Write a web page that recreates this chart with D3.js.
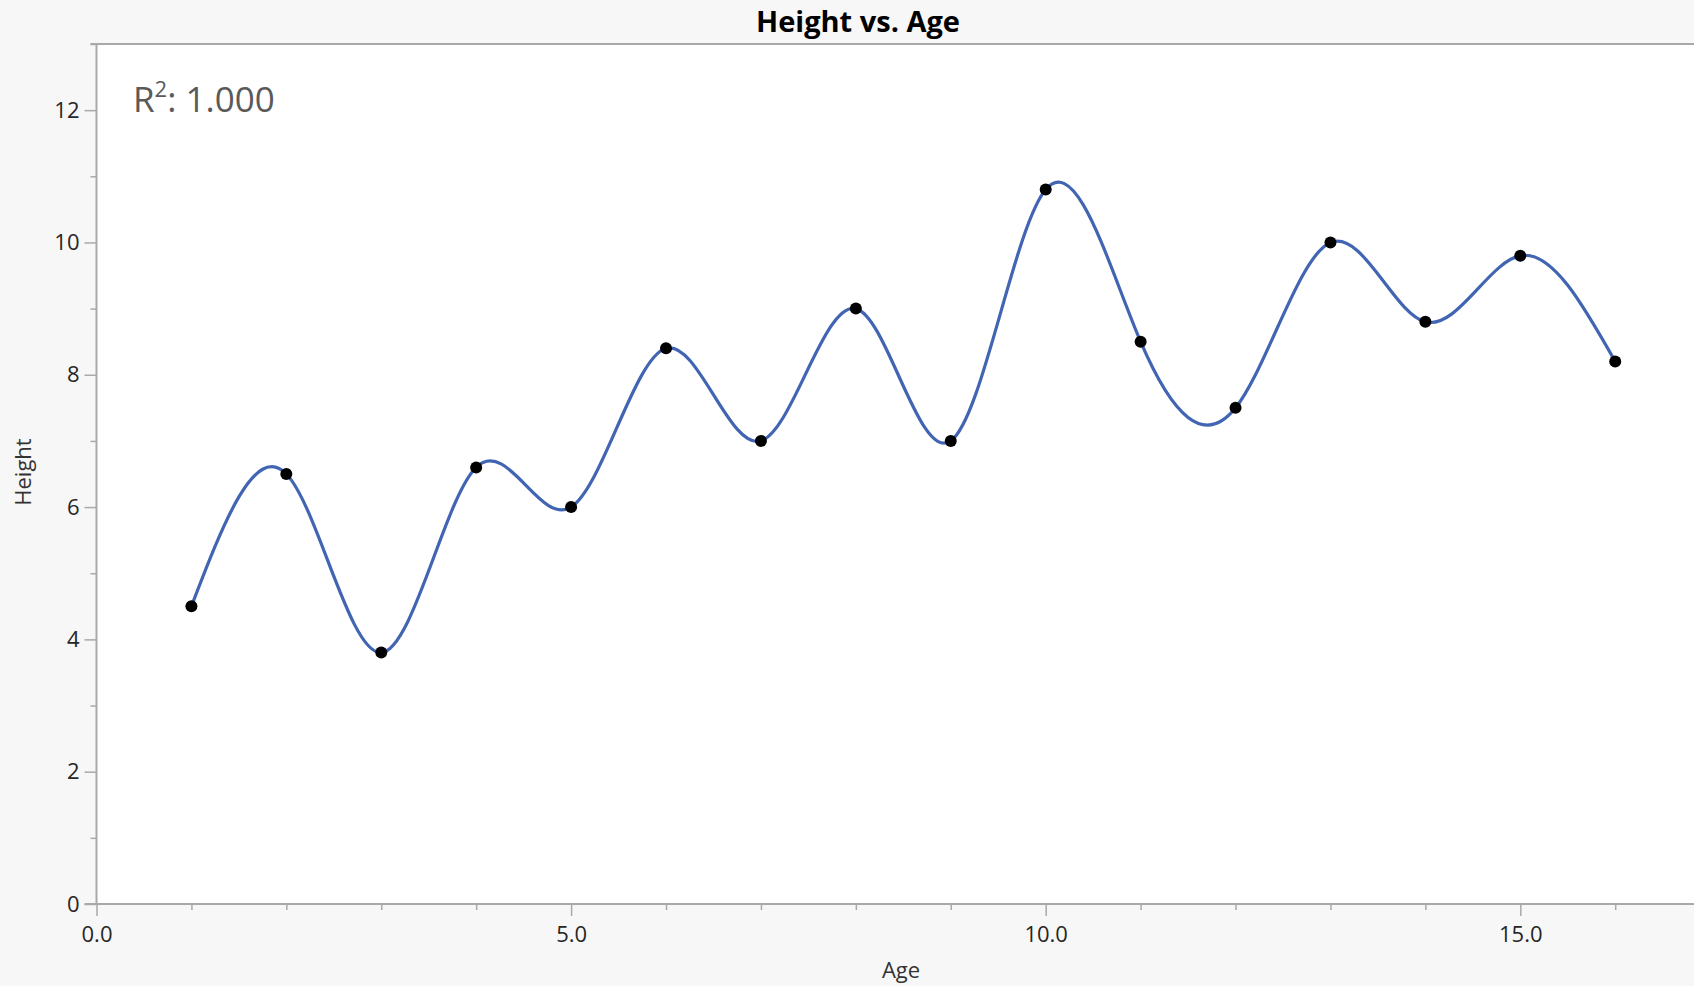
<!DOCTYPE html>
<html>
<head>
<meta charset="utf-8">
<script src="https://cdn.jsdelivr.net/npm/d3@7"></script>
<style>
  html, body { margin: 0; padding: 0; background: #f7f7f7; }
  svg { display: block; }
  text { font-family: "Open Sans", "Noto Sans", sans-serif; }
</style>
</head>
<body>
<svg id="chart" width="1694" height="986"></svg>
<script>
// ---- data ----
const ages = [1, 2, 3, 4, 5, 6, 7, 8, 9, 10, 11, 12, 13, 14, 15, 16];
const heights = [4.5, 6.5, 3.8, 6.6, 6.0, 8.4, 7.0, 9.0, 7.0, 10.8, 8.5, 7.5, 10.0, 8.8, 9.8, 8.2];
const xMajorTicks = [0, 5, 10, 15];
const xMinorTicks = [1, 2, 3, 4, 6, 7, 8, 9, 11, 12, 13, 14, 16];
const yMajorTicks = [0, 2, 4, 6, 8, 10, 12];
const yMinorTicks = [1, 3, 5, 7, 9, 11, 13];
const titleText = "Height vs. Age";
const xLabel = "Age";
const yLabel = "Height";
const rSquared = "1.000";

(function () {
const W = 1694, H = 986;
const mLeft = 96.5, mRight = 1694, mTop = 44, mBottom = 904;

const svg = d3.select("#chart");
svg.append("rect").attr("width", W).attr("height", H).attr("fill", "#f7f7f7");

const x = d3.scaleLinear().domain([0, 16.83]).range([mLeft, mRight]);
const y = d3.scaleLinear().domain([0, 13]).range([mBottom, mTop]);

// plot area
svg.append("rect").attr("x", mLeft).attr("y", mTop)
  .attr("width", mRight - mLeft).attr("height", mBottom - mTop).attr("fill", "#ffffff");

const axisColor = "#a9a9a9";
const tickColor = "#262626";

// top frame line
svg.append("line").attr("x1", mLeft - 6).attr("x2", mRight).attr("y1", mTop).attr("y2", mTop)
  .attr("stroke", axisColor).attr("stroke-width", 2);

// Y axis
const yAxisMajor = d3.axisLeft(y).tickValues(yMajorTicks).tickSize(12).tickPadding(5).tickFormat(d3.format("d"));
const yAxisMinor = d3.axisLeft(y).tickValues(yMinorTicks).tickSize(6).tickFormat("");
const gyMinor = svg.append("g").attr("transform", `translate(${mLeft},0)`).call(yAxisMinor);
const gy = svg.append("g").attr("transform", `translate(${mLeft},0)`).call(yAxisMajor);
[gy, gyMinor].forEach(g => {
  g.select(".domain").remove();
  g.selectAll(".tick line").attr("stroke", axisColor).attr("stroke-width", 1.5);
});
gy.selectAll(".tick text").attr("fill", tickColor)
  .style("font-family", '"Open Sans", sans-serif').style("font-size", "22px");
svg.append("line").attr("x1", mLeft).attr("x2", mLeft).attr("y1", mTop - 1).attr("y2", mBottom + 1)
  .attr("stroke", axisColor).attr("stroke-width", 2);

// X axis
const xAxisMajor = d3.axisBottom(x).tickValues(xMajorTicks).tickSize(12).tickPadding(10).tickFormat(d3.format(".1f"));
const xAxisMinor = d3.axisBottom(x).tickValues(xMinorTicks).tickSize(6).tickFormat("");
const gxMinor = svg.append("g").attr("transform", `translate(0,${mBottom})`).call(xAxisMinor);
const gx = svg.append("g").attr("transform", `translate(0,${mBottom})`).call(xAxisMajor);
[gx, gxMinor].forEach(g => {
  g.select(".domain").remove();
  g.selectAll(".tick line").attr("stroke", axisColor).attr("stroke-width", 1.5);
});
gx.selectAll(".tick text").attr("fill", tickColor)
  .style("font-family", '"Open Sans", sans-serif').style("font-size", "22px");
svg.append("line").attr("x1", mLeft - 12).attr("x2", mRight).attr("y1", mBottom).attr("y2", mBottom)
  .attr("stroke", axisColor).attr("stroke-width", 2);

// data
const data = ages.map((a, i) => ({ age: a, height: heights[i] }));

// spline curve
const line = d3.line().x(d => x(d.age)).y(d => y(d.height)).curve(d3.curveNatural);
svg.append("path").datum(data).attr("d", line)
  .attr("fill", "none").attr("stroke", "#4165b2").attr("stroke-width", 3.2);

// points
svg.append("g").selectAll("circle").data(data).join("circle")
  .attr("cx", d => x(d.age)).attr("cy", d => y(d.height)).attr("r", 6)
  .attr("fill", "#000");

// title
svg.append("text").attr("x", 858).attr("y", 32).attr("text-anchor", "middle")
  .attr("font-size", 29).attr("font-weight", "bold").attr("fill", "#000").text(titleText);

// axis labels
svg.append("text").attr("x", 901).attr("y", 978).attr("text-anchor", "middle")
  .attr("font-size", 22).attr("fill", "#333").text(xLabel);
svg.append("text").attr("transform", "translate(31,472) rotate(-90)").attr("text-anchor", "middle")
  .attr("font-size", 22).attr("fill", "#333").text(yLabel);

// R^2 annotation
const r2 = svg.append("text").attr("x", 133).attr("y", 112).attr("font-size", 35).attr("fill", "#5a5a5a");
r2.append("tspan").text("R");
r2.append("tspan").attr("font-size", 22).attr("dy", -15).text("2");
r2.append("tspan").attr("dy", 15).text(": " + rSquared);
})();
</script>
</body>
</html>
